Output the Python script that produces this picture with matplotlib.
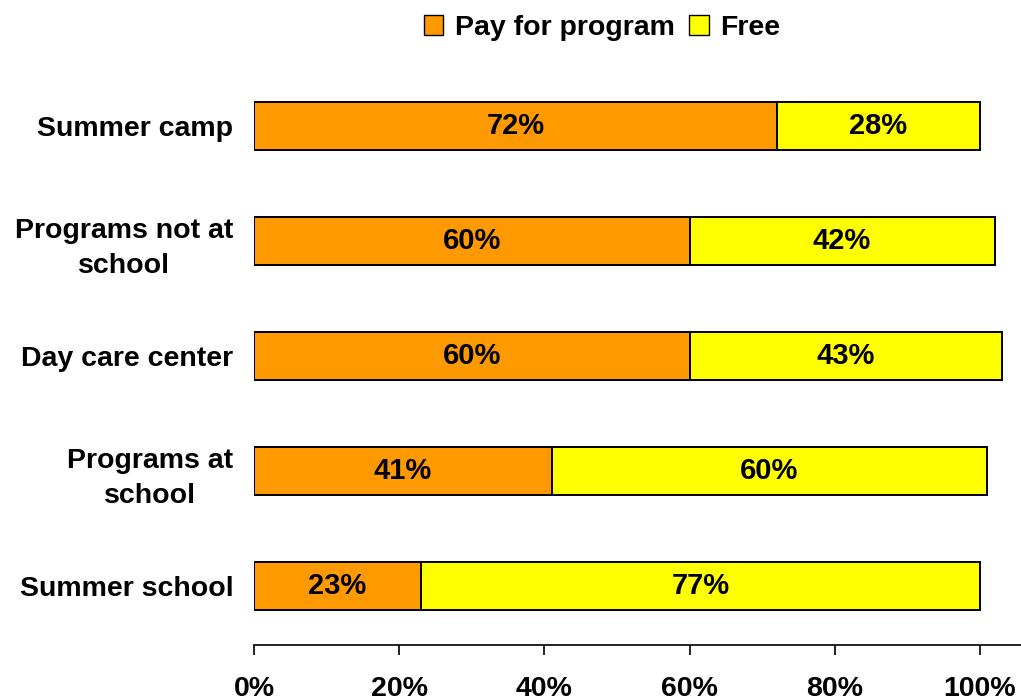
import matplotlib
matplotlib.use('Agg')
import matplotlib.pyplot as plt
from matplotlib.patches import Patch

# Data (top to bottom)
categories = ["Summer camp", "Programs not at\nschool", "Day care center", "Programs at\nschool", "Summer school"]
pay = [72, 60, 60, 41, 23]
free = [28, 42, 43, 60, 77]
tick_vals = [0, 20, 40, 60, 80, 100]

PAY_COLOR = "#FF9900"
FREE_COLOR = "#FFFF00"

plt.rcParams['font.family'] = ['Liberation Sans', 'DejaVu Sans']
plt.rcParams['font.weight'] = 'bold'

fig = plt.figure(figsize=(10.21, 7.0), dpi=100)
W, H = 1021, 700
ax = fig.add_axes([254 / W, (H - 645) / H, (1021 - 254) / W, (645 - 67) / H])

y = list(range(len(categories)))
ax.barh(y, pay, height=0.42, color=PAY_COLOR, edgecolor="black", linewidth=1.4)
ax.barh(y, free, left=pay, height=0.42, color=FREE_COLOR, edgecolor="black", linewidth=1.4)

for yi, p, f in zip(y, pay, free):
    ax.text(p / 2, yi, f"{p}%", ha="center", va="center", fontsize=21, fontweight="bold")
    ax.text(p + f / 2, yi, f"{f}%", ha="center", va="center", fontsize=21, fontweight="bold")

ax.set_xlim(0, (1021 - 254) / 7.26)
ax.set_ylim(len(categories) - 1 + 0.513, -0.513)

ax.set_yticks(y)
ax.set_yticklabels(categories, fontsize=20.5, fontweight="bold", ha="right",
                   multialignment="center", linespacing=1.45)
ax.tick_params(axis="y", length=0, pad=15)

ax.set_xticks(tick_vals)
ax.set_xticklabels([f"{v}%" for v in tick_vals], fontsize=20.5, fontweight="bold")
ax.tick_params(axis="x", length=7, width=1.2, direction="out", pad=15)

for s in ["top", "right", "left"]:
    ax.spines[s].set_visible(False)
ax.spines["bottom"].set_linewidth(1.2)

handles = [Patch(facecolor=PAY_COLOR, edgecolor="black", label="Pay for program"),
           Patch(facecolor=FREE_COLOR, edgecolor="black", label="Free")]
fig.legend(handles=handles, loc="center", bbox_to_anchor=(602 / W, 1 - 28 / H), ncol=2,
           frameon=False, handlelength=0.7, handleheight=0.7,
           handletextpad=0.4, columnspacing=0.5, prop={'weight': 'bold', 'size': 20.5})

fig.savefig("out.png", dpi=100)
